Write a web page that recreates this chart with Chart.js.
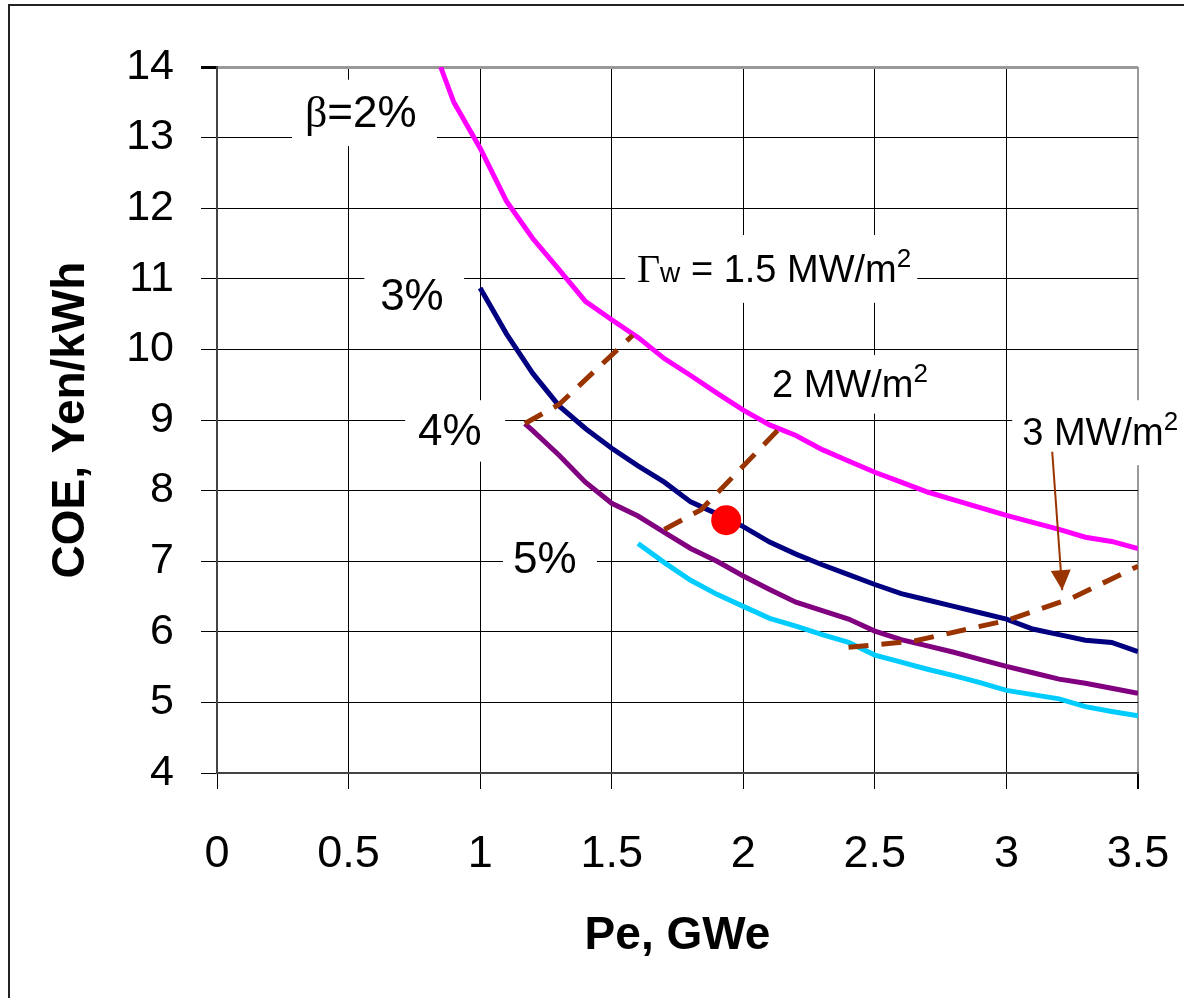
<!DOCTYPE html>
<html>
<head>
<meta charset="utf-8">
<script src="https://cdn.jsdelivr.net/npm/chart.js@4.4.1/dist/chart.umd.min.js"></script>
<style>
  body { margin: 0; background: #fff; }
  #wrap { position: relative; width: 1184px; height: 998px; overflow: hidden; }
  #frame { position: absolute; left: 8px; top: 4px; right: -4px; bottom: -4px;
           border-left: 2px solid #222; border-top: 2px solid #222; pointer-events: none; }
</style>
</head>
<body>
<div id="wrap">
  <canvas id="coeChart" width="1184" height="998"></canvas>
  <div id="frame"></div>
</div>
<script>
// COE vs net electric power, one curve per beta
const peBeta2 = [0.85, 0.9, 1.0, 1.1, 1.2, 1.3, 1.4, 1.5, 1.6, 1.7, 1.8, 1.9, 2.0, 2.1, 2.2, 2.3, 2.4, 2.5, 2.6, 2.7, 2.8, 2.9, 3.0, 3.1, 3.2, 3.3, 3.4, 3.5];
const coeBeta2 = [14.0, 13.5, 12.85, 12.1, 11.57, 11.13, 10.68, 10.42, 10.17, 9.87, 9.63, 9.38, 9.14, 8.93, 8.78, 8.58, 8.42, 8.26, 8.12, 7.98, 7.87, 7.76, 7.65, 7.55, 7.45, 7.34, 7.28, 7.18];

const peBeta3 = [1.0, 1.1, 1.2, 1.3, 1.4, 1.5, 1.6, 1.7, 1.8, 1.9, 2.0, 2.1, 2.2, 2.3, 2.4, 2.5, 2.6, 2.7, 2.8, 2.9, 3.0, 3.1, 3.2, 3.3, 3.4, 3.5];
const coeBeta3 = [10.87, 10.22, 9.66, 9.20, 8.88, 8.60, 8.35, 8.12, 7.84, 7.67, 7.49, 7.27, 7.10, 6.95, 6.81, 6.67, 6.54, 6.45, 6.36, 6.27, 6.18, 6.04, 5.96, 5.88, 5.85, 5.72];

const peBeta4 = [1.17, 1.2, 1.3, 1.4, 1.5, 1.6, 1.7, 1.8, 1.9, 2.0, 2.1, 2.2, 2.3, 2.4, 2.5, 2.6, 2.7, 2.8, 2.9, 3.0, 3.1, 3.2, 3.3, 3.4, 3.5];
const coeBeta4 = [8.95, 8.85, 8.50, 8.12, 7.82, 7.64, 7.41, 7.18, 7.00, 6.79, 6.60, 6.42, 6.30, 6.18, 6.01, 5.89, 5.80, 5.71, 5.61, 5.51, 5.42, 5.33, 5.27, 5.20, 5.13];

const peBeta5 = [1.6, 1.7, 1.8, 1.9, 2.0, 2.1, 2.2, 2.3, 2.4, 2.5, 2.6, 2.7, 2.8, 2.9, 3.0, 3.1, 3.2, 3.3, 3.4, 3.5];
const coeBeta5 = [7.25, 6.98, 6.73, 6.53, 6.36, 6.19, 6.08, 5.96, 5.85, 5.67, 5.57, 5.47, 5.38, 5.28, 5.17, 5.11, 5.05, 4.94, 4.87, 4.81];

// constant wall load lines
const peGw15 = [1.17, 1.30, 1.58];
const coeGw15 = [8.95, 9.22, 10.2];
const peGw2 = [1.70, 1.84, 2.13];
const coeGw2 = [7.45, 7.73, 8.85];
const peGw3 = [2.40, 2.65, 3.0, 3.25, 3.5];
const coeGw3 = [5.78, 5.87, 6.16, 6.48, 6.93];

// design point and the arrow to the 3 MW/m2 line
const pePoint = [1.935];
const coePoint = [7.58];
const peArrow = [3.174, 3.212];
const coeArrow = [8.55, 6.59];

const yTicks = [4, 5, 6, 7, 8, 9, 10, 11, 12, 13, 14];
const xTicks = [0, 0.5, 1, 1.5, 2, 2.5, 3, 3.5];

const SANS = '"Liberation Sans", Arial, sans-serif';
const SERIF = '"Liberation Serif", "Times New Roman", serif';

function pts(xs, ys) {
  return xs.map((v, i) => ({ x: v, y: ys[i] }));
}

function curve(xs, ys, color) {
  return { data: pts(xs, ys), showLine: true, borderColor: color, borderWidth: 5,
           pointRadius: 0, order: 3, tension: 0 };
}

function wallLine(xs, ys) {
  return { data: pts(xs, ys), showLine: true, borderColor: '#993300', borderWidth: 5,
           borderDash: [20, 13], pointRadius: 0, order: 2 };
}

// text boxes, placed in data units (box = [x1, y1, x2, y2])
const curveLabels = [
  { x: 0.334, y: 13.15, box: [0.285, 13.82, 0.836, 12.88],
    parts: [{ t: 'β', font: '44px ' + SERIF }, { t: '=2%', font: '44px ' + SANS }] },
  { x: 0.62, y: 10.56, box: [0.56, 11.12, 0.939, 10.39], parts: [{ t: '3%', font: '44px ' + SANS }] },
  { x: 0.764, y: 8.65, box: [0.715, 9.28, 1.095, 8.41], parts: [{ t: '4%', font: '44px ' + SANS }] },
  { x: 1.125, y: 6.83, box: [1.087, 7.44, 1.444, 6.59], parts: [{ t: '5%', font: '44px ' + SANS }] },
  { x: 1.596, y: 10.95, box: [1.551, 11.62, 2.661, 10.66],
    parts: [{ t: 'Γ', font: '40px ' + SERIF }, { t: 'w', font: '28px ' + SANS },
            { t: ' = 1.5 MW/m', font: '38px ' + SANS }, { t: '2', font: '26px ' + SANS, rise: 15 }] },
  { x: 2.109, y: 9.33, box: [2.052, 9.92, 2.737, 9.09],
    parts: [{ t: '2 MW/m', font: '38px ' + SANS }, { t: '2', font: '26px ' + SANS, rise: 15 }] },
  { x: 3.06, y: 8.65, box: [3.022, 9.28, 3.675, 8.36],
    parts: [{ t: '3 MW/m', font: '38px ' + SANS }, { t: '2', font: '26px ' + SANS, rise: 15 }] }
];

const labelPlugin = {
  id: 'curveLabels',
  beforeDatasetsDraw(chart) {
    const { ctx, scales: { x, y } } = chart;
    ctx.save();
    curveLabels.forEach(lab => {
      const x1 = x.getPixelForValue(lab.box[0]);
      const y1 = y.getPixelForValue(lab.box[1]);
      const x2 = x.getPixelForValue(lab.box[2]);
      const y2 = y.getPixelForValue(lab.box[3]);
      ctx.fillStyle = '#fff';
      ctx.fillRect(x1, y1, x2 - x1, y2 - y1);
      let px = x.getPixelForValue(lab.x);
      const py = y.getPixelForValue(lab.y);
      ctx.fillStyle = '#000';
      ctx.textAlign = 'left';
      ctx.textBaseline = 'alphabetic';
      lab.parts.forEach(p => {
        ctx.font = p.font;
        ctx.fillText(p.t, px, py - (p.rise || 0));
        px += ctx.measureText(p.t).width;
      });
    });
    ctx.restore();
  },
  afterDatasetsDraw(chart) {
    // arrow head on the end of the arrow dataset
    const { ctx, scales: { x, y } } = chart;
    const n = peArrow.length;
    const tx = x.getPixelForValue(peArrow[n - 1]);
    const ty = y.getPixelForValue(coeArrow[n - 1]);
    const fx = x.getPixelForValue(peArrow[n - 2]);
    const fy = y.getPixelForValue(coeArrow[n - 2]);
    const a = Math.atan2(ty - fy, tx - fx);
    const len = 20, half = 10;
    const bx = tx - len * Math.cos(a), by = ty - len * Math.sin(a);
    ctx.save();
    ctx.fillStyle = '#993300';
    ctx.beginPath();
    ctx.moveTo(tx, ty);
    ctx.lineTo(bx + half * Math.sin(a), by - half * Math.cos(a));
    ctx.lineTo(bx - half * Math.sin(a), by + half * Math.cos(a));
    ctx.closePath();
    ctx.fill();
    ctx.restore();
  }
};

const ctx = document.getElementById('coeChart').getContext('2d');

new Chart(ctx, {
  type: 'scatter',
  data: {
    datasets: [
      { data: pts(pePoint, coePoint), backgroundColor: '#ff0000', borderColor: '#ff0000',
        pointRadius: 15, pointBorderWidth: 0, order: 0 },
      wallLine(peGw15, coeGw15),
      wallLine(peGw2, coeGw2),
      wallLine(peGw3, coeGw3),
      { data: pts(peArrow, coeArrow), showLine: true, borderColor: '#993300', borderWidth: 2,
        pointRadius: 0, order: 1 },
      curve(peBeta2, coeBeta2, '#ff00ff'),
      curve(peBeta3, coeBeta3, '#000080'),
      curve(peBeta4, coeBeta4, '#800080'),
      curve(peBeta5, coeBeta5, '#00ccff')
    ]
  },
  options: {
    responsive: false,
    animation: false,
    layout: { padding: { left: 0, right: 46, top: 67, bottom: 0 } },
    plugins: { legend: { display: false }, tooltip: { enabled: false } },
    scales: {
      x: {
        type: 'linear',
        min: xTicks[0],
        max: xTicks[xTicks.length - 1],
        afterBuildTicks: s => { s.ticks = xTicks.map(v => ({ value: v })); },
        afterFit: s => { s.height = 225; s.paddingLeft = 0; s.paddingRight = 0; },
        ticks: { color: '#000', padding: 39, font: { family: SANS, size: 45 }, maxRotation: 0,
                 callback: v => String(v) },
        grid: {
          color: c => (c.tick && c.tick.value === 3.5 ? '#999' : '#000'),
          lineWidth: c => (c.tick && c.tick.value === 3.5 ? 2 : 1),
          tickColor: '#000', tickLength: 16
        },
        border: { color: '#444', width: 2 },
        title: { display: true, text: 'Pe, GWe', color: '#000',
                 font: { family: SANS, size: 46, weight: 'bold' }, padding: { bottom: 34 } }
      },
      y: {
        type: 'linear',
        min: yTicks[0],
        max: yTicks[yTicks.length - 1],
        afterBuildTicks: s => { s.ticks = yTicks.map(v => ({ value: v })); },
        afterFit: s => { s.width = 217; s.paddingTop = 0; s.paddingBottom = 0; },
        ticks: { color: '#000', padding: 27, font: { family: SANS, size: 43 } },
        grid: {
          color: c => (c.tick && c.tick.value === 14 ? '#999' : '#000'),
          lineWidth: c => (c.tick && c.tick.value === 14 ? 3 : 1),
          tickColor: '#000', tickLength: 16
        },
        border: { color: '#444', width: 2 },
        title: { display: true, text: 'COE, Yen/kWh', color: '#000',
                 font: { family: SANS, size: 46, weight: 'bold' }, padding: { top: 44 } }
      }
    }
  },
  plugins: [labelPlugin]
});
</script>
</body>
</html>
